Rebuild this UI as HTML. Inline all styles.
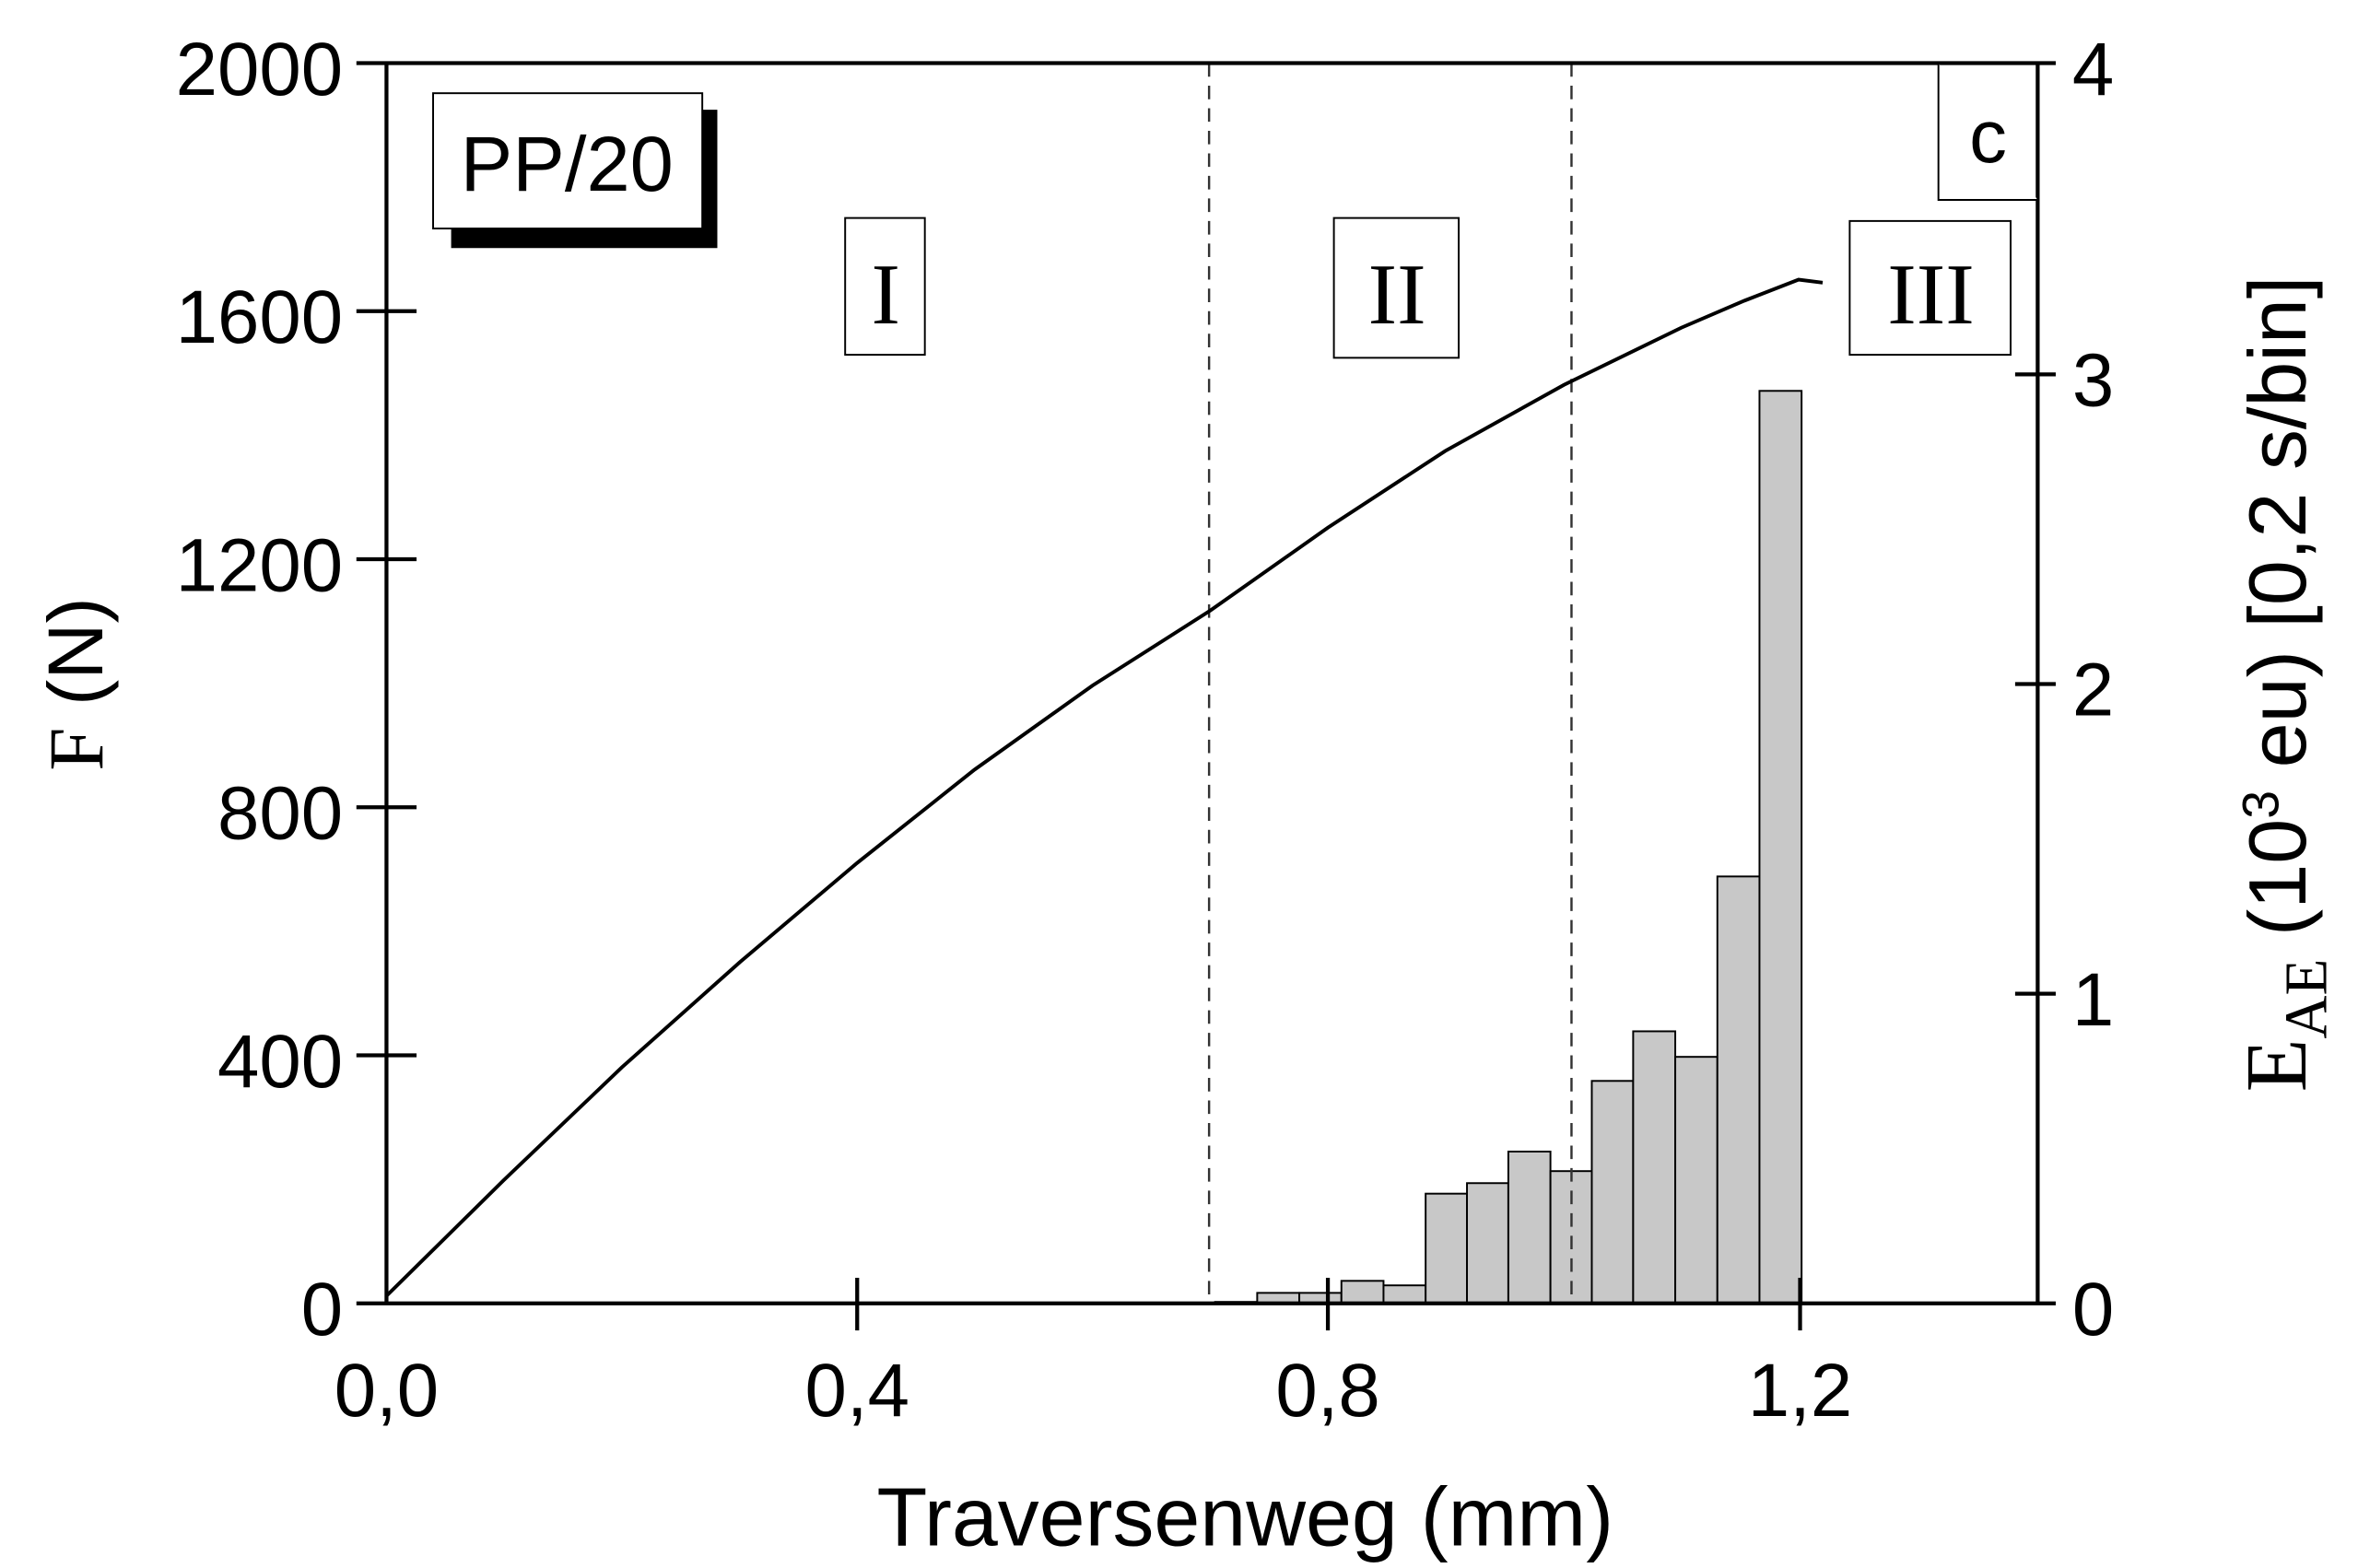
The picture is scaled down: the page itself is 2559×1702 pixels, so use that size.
<!DOCTYPE html>
<html><head><meta charset="utf-8"><style>
html,body{margin:0;padding:0;background:#fff;}
svg{display:block;}
text{font-family:"Liberation Sans",sans-serif;fill:#000;}
.s{font-family:"Liberation Serif",serif;}
</style></head><body>
<svg width="2559" height="1702" viewBox="0 0 1568 1043" preserveAspectRatio="none">
<g fill="#c8c8c8" stroke="#000" stroke-width="1.2">
<rect x="808" y="866" width="28" height="1"/>
<rect x="836" y="860" width="28" height="7"/>
<rect x="864" y="860" width="28" height="7"/>
<rect x="892" y="852" width="28" height="15"/>
<rect x="920" y="855" width="28" height="12"/>
<rect x="948" y="794" width="27.5" height="73"/>
<rect x="975.5" y="787" width="27.5" height="80"/>
<rect x="1003" y="766" width="28" height="101"/>
<rect x="1031" y="779" width="27.5" height="88"/>
<rect x="1058.5" y="719" width="27.5" height="148"/>
<rect x="1086" y="686" width="28" height="181"/>
<rect x="1114" y="703" width="28" height="164"/>
<rect x="1142" y="583" width="28" height="284"/>
<rect x="1170" y="260" width="28" height="607"/>
</g>
<g stroke="#333" stroke-width="1.5" stroke-dasharray="9,6">
<line x1="804" y1="42" x2="804" y2="867"/>
<line x1="1045" y1="42" x2="1045" y2="867"/>
</g>
<polyline fill="none" stroke="#000" stroke-width="2.4" points="257,862 335,785 413.5,710 492,640 570,574 648,512 726.5,456 805,406 883,351 961,300 1040,256 1118,218 1160,200 1196,186 1212,188" />
<g stroke="#000" stroke-width="2.6" fill="none">
<line x1="257" y1="42" x2="257" y2="867"/>
<line x1="1355" y1="42" x2="1355" y2="867"/>
<line x1="237" y1="42" x2="1367" y2="42"/>
<line x1="237" y1="867" x2="1367" y2="867"/>
<line x1="237" y1="207" x2="277" y2="207"/>
<line x1="237" y1="372" x2="277" y2="372"/>
<line x1="237" y1="537" x2="277" y2="537"/>
<line x1="237" y1="702" x2="277" y2="702"/>
<line x1="1340" y1="249" x2="1367" y2="249"/>
<line x1="1340" y1="455" x2="1367" y2="455"/>
<line x1="1340" y1="661" x2="1367" y2="661"/>
<line x1="570" y1="850" x2="570" y2="885"/>
<line x1="883" y1="850" x2="883" y2="885"/>
<line x1="1197" y1="850" x2="1197" y2="885"/>
</g>
<g font-size="50" text-anchor="end">
<text x="228" y="63">2000</text>
<text x="228" y="228">1600</text>
<text x="228" y="393">1200</text>
<text x="228" y="558">800</text>
<text x="228" y="723">400</text>
<text x="228" y="888">0</text>
</g>
<g font-size="50" text-anchor="start">
<text x="1378" y="63">4</text>
<text x="1378" y="270">3</text>
<text x="1378" y="476">2</text>
<text x="1378" y="682">1</text>
<text x="1378" y="888">0</text>
</g>
<g font-size="50" text-anchor="middle">
<text x="257" y="942">0,0</text>
<text x="570" y="942">0,4</text>
<text x="883" y="942">0,8</text>
<text x="1197" y="942">1,2</text>
</g>
<text x="828" y="1028" font-size="55" text-anchor="middle">Traversenweg (mm)</text>
<text transform="translate(68,455) rotate(-90)" font-size="52" text-anchor="middle"><tspan class="s">F</tspan> (N)</text>
<text transform="translate(1533,455) rotate(-90)" font-size="54" text-anchor="middle"><tspan class="s" font-size="58">E</tspan><tspan class="s" font-size="40" dy="14">AE</tspan><tspan dy="-14"> (10</tspan><tspan font-size="34" dy="-18">3</tspan><tspan dy="18"> eu) [0,2 s/bin]</tspan></text>
<rect x="300" y="73" width="177" height="92" fill="#000"/>
<rect x="288" y="62" width="179" height="90" fill="#fff" stroke="#000" stroke-width="1.2"/>
<text x="377" y="127" font-size="52" text-anchor="middle">PP/20</text>
<g fill="#fff" stroke="#000" stroke-width="1.2">
<rect x="562" y="145" width="53" height="91"/>
<rect x="887" y="145" width="83" height="93"/>
<rect x="1230" y="147" width="107" height="89"/>
<polyline points="1289,42 1289,133 1355,133"/>
</g>
<g font-size="58" text-anchor="middle">
<text class="s" x="589" y="215">I</text>
<text class="s" x="929" y="215">II</text>
<text class="s" x="1284" y="215">III</text>
</g>
<text x="1322" y="108" font-size="50" text-anchor="middle">c</text>
</svg>
</body></html>
